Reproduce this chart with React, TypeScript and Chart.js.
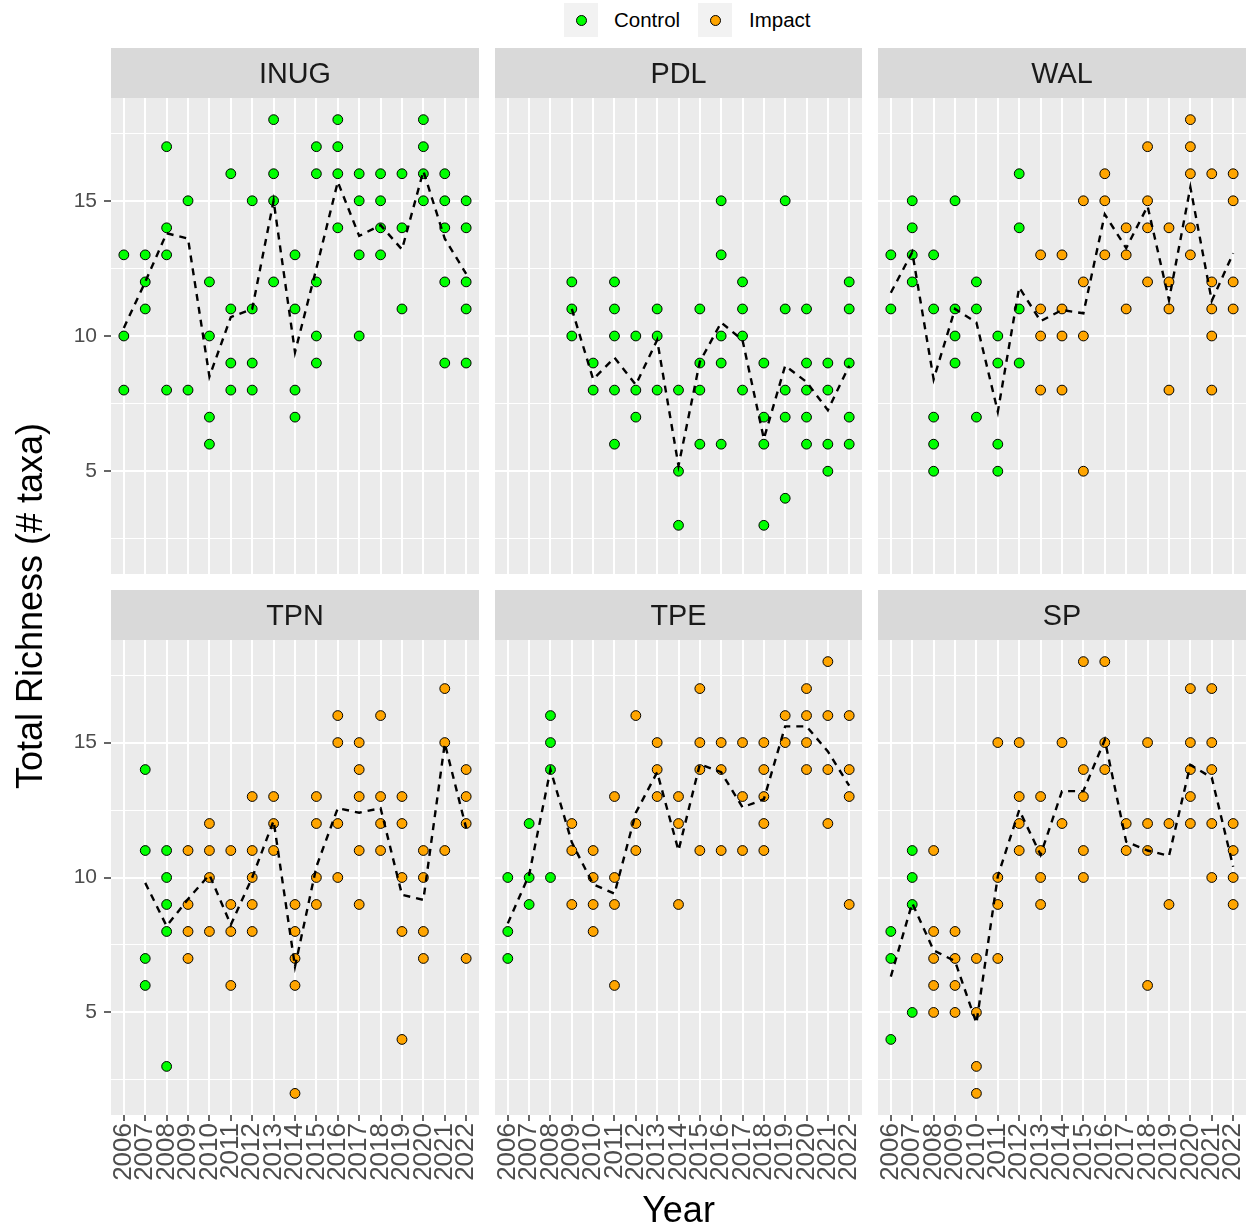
import React, { useEffect, useRef } from 'react';
import { Chart, registerables } from 'chart.js';

Chart.register(...registerables);

const FONT = '"Liberation Sans", Arial, Helvetica, sans-serif';

const YEARS = [2006, 2007, 2008, 2009, 2010, 2011, 2012, 2013, 2014, 2015, 2016, 2017, 2018, 2019, 2020, 2021, 2022];
const Y_GRID = [2.5, 5, 7.5, 10, 12.5, 15, 17.5];

// ---- INUG ----
const INUG_CONTROL: number[][] = [
  [13, 10, 8], [13, 12, 11], [17, 14, 13, 8], [15, 8], [12, 10, 7, 6], [16, 11, 9, 8], [15, 11, 9, 8],
  [18, 16, 15, 12], [13, 11, 8, 7], [17, 16, 12, 10, 9], [18, 17, 16, 14], [16, 15, 13, 10], [16, 15, 14, 13],
  [16, 14, 11], [18, 17, 16, 15], [16, 15, 14, 12, 9], [15, 14, 12, 11, 9],
];
const INUG_IMPACT: number[][] = [[], [], [], [], [], [], [], [], [], [], [], [], [], [], [], [], []];
const INUG_MEAN: (number | null)[] = [10.3, 12.0, 13.8, 13.6, 8.5, 10.7, 11.0, 15.0, 9.4, 12.5, 15.7, 13.7, 14.1, 13.2, 16.1, 13.6, 12.3];

// ---- PDL ----
const PDL_CONTROL: number[][] = [
  [], [], [], [12, 11, 10], [9, 8], [12, 11, 10, 8, 6], [10, 8, 7], [11, 10, 8], [8, 5, 3], [11, 9, 8, 6],
  [15, 13, 10, 9, 6], [12, 11, 10, 8], [9, 7, 6, 3], [15, 11, 8, 7, 4], [11, 9, 8, 7, 6], [9, 8, 6, 5], [12, 11, 9, 7, 6],
];
const PDL_IMPACT: number[][] = [[], [], [], [], [], [], [], [], [], [], [], [], [], [], [], [], []];
const PDL_MEAN: (number | null)[] = [null, null, null, 11.0, 8.4, 9.2, 8.2, 9.85, 5.2, 9.05, 10.5, 9.85, 6.2, 8.9, 8.3, 7.26, 8.9];

// ---- WAL ----
const WAL_CONTROL: number[][] = [
  [13, 11], [15, 14, 13, 12], [13, 11, 7, 6, 5], [15, 11, 10, 9], [12, 11, 7], [10, 9, 6, 5], [16, 14, 11, 9],
  [], [], [], [], [], [], [], [], [], [],
];
const WAL_IMPACT: number[][] = [
  [], [], [], [], [], [], [], [13, 11, 10, 8], [13, 11, 10, 8], [15, 12, 10, 5], [16, 15, 13], [14, 13, 11],
  [17, 15, 14, 12], [14, 12, 11, 8], [18, 17, 16, 14, 13], [16, 12, 11, 10, 8], [16, 15, 12, 11],
];
const WAL_MEAN: (number | null)[] = [11.6, 13.1, 8.4, 11.0, 10.5, 7.2, 11.8, 10.55, 10.96, 10.84, 14.5, 13.25, 14.8, 11.33, 15.5, 11.3, 13.06];

// ---- TPN ----
const TPN_CONTROL: number[][] = [
  [], [14, 11, 7, 6], [11, 10, 9, 8, 3], [], [], [], [], [], [], [], [], [], [], [], [], [], [],
];
const TPN_IMPACT: number[][] = [
  [], [], [], [11, 9, 8, 7], [12, 11, 10, 8], [11, 9, 8, 6], [13, 11, 10, 9, 8], [13, 12, 11], [9, 8, 7, 6, 2],
  [13, 12, 10, 9], [16, 15, 12, 10], [15, 14, 13, 11, 9], [16, 13, 12, 11], [13, 12, 10, 8, 4], [11, 10, 8, 7],
  [17, 15, 11], [14, 13, 12, 7],
];
const TPN_MEAN: (number | null)[] = [null, 9.8, 8.2, 9.2, 10.1, 8.25, 10.0, 12.1, 6.7, 10.4, 12.57, 12.4, 12.57, 9.36, 9.17, 14.97, 11.83];

// ---- TPE ----
const TPE_CONTROL: number[][] = [
  [10, 8, 7], [12, 10, 9], [16, 15, 14, 10], [], [], [], [], [], [], [], [], [], [], [], [], [], [],
];
const TPE_IMPACT: number[][] = [
  [], [], [], [12, 11, 9], [11, 10, 9, 8], [13, 10, 9, 6], [16, 12, 11], [15, 14, 13], [13, 12, 9],
  [17, 15, 14, 11], [15, 14, 11], [15, 13, 11], [15, 14, 13, 12, 11], [16, 15], [17, 16, 15, 14],
  [18, 16, 14, 12], [16, 14, 13, 9],
];
const TPE_MEAN: (number | null)[] = [8.3, 10.1, 14.0, 11.3, 9.75, 9.4, 12.4, 13.9, 11.0, 14.2, 13.9, 12.6, 12.9, 15.6, 15.6, 14.67, 13.4];

// ---- SP ----
const SP_CONTROL: number[][] = [
  [8, 7, 4], [11, 10, 9, 5], [], [], [], [], [], [], [], [], [], [], [], [], [], [], [],
];
const SP_IMPACT: number[][] = [
  [], [], [11, 8, 7, 6, 5], [8, 7, 6, 5], [7, 5, 3, 2], [15, 10, 9, 7], [15, 13, 12, 11], [13, 11, 10, 9],
  [15, 12], [18, 14, 13, 11, 10], [18, 15, 14], [12, 11], [15, 12, 11, 6], [12, 9], [17, 15, 14, 13, 12],
  [17, 15, 14, 12, 10], [12, 11, 10, 9],
];
const SP_MEAN: (number | null)[] = [6.33, 9.05, 7.3, 6.9, 4.6, 10.05, 12.5, 10.84, 13.2, 13.2, 15.1, 11.33, 11.0, 10.8, 14.17, 13.7, 10.4];

const PANEL_TITLES = ['INUG', 'PDL', 'WAL', 'TPN', 'TPE', 'SP'];
const PANEL_CONTROL = [INUG_CONTROL, PDL_CONTROL, WAL_CONTROL, TPN_CONTROL, TPE_CONTROL, SP_CONTROL];
const PANEL_IMPACT = [INUG_IMPACT, PDL_IMPACT, WAL_IMPACT, TPN_IMPACT, TPE_IMPACT, SP_IMPACT];
const PANEL_MEAN = [INUG_MEAN, PDL_MEAN, WAL_MEAN, TPN_MEAN, TPE_MEAN, SP_MEAN];

const CONTROL_COLOR = '#00FF00';
const IMPACT_COLOR = '#FFA500';

// layout (pixels)
const COLS: [number, number][] = [[111, 479], [495, 862], [878, 1246]];
const ROWS: [number, number][] = [[98, 574], [640, 1115]];
const STRIP = 50;
const LEFT_AXIS = 111;
const BOTTOM_AXIS = 80;

function toPoints(groups: number[][]) {
  const pts: { x: number; y: number }[] = [];
  groups.forEach((vals, i) => vals.forEach((v) => pts.push({ x: YEARS[i], y: v })));
  return pts;
}

function Panel({ idx }: { idx: number }) {
  const ref = useRef<HTMLCanvasElement>(null);
  const col = idx % 3;
  const row = Math.floor(idx / 3);
  const [x0, x1] = COLS[col];
  const [y0, y1] = ROWS[row];
  const axisW = col === 0 ? LEFT_AXIS : 0;
  const axisH = row === 1 ? BOTTOM_AXIS : 0;
  const left = x0 - axisW;
  const top = y0 - STRIP;
  const width = x1 - x0 + axisW;
  const height = y1 - y0 + STRIP + axisH;
  const title = PANEL_TITLES[idx];

  useEffect(() => {
    if (!ref.current) return;
    const facetPlugin = {
      id: 'facetBg',
      beforeDraw(chart: any) {
        const { ctx, chartArea: a } = chart;
        ctx.save();
        ctx.fillStyle = '#EBEBEB';
        ctx.fillRect(a.left, a.top, a.right - a.left, a.bottom - a.top);
        ctx.fillStyle = '#D9D9D9';
        ctx.fillRect(a.left, a.top - STRIP, a.right - a.left, STRIP);
        ctx.fillStyle = '#1A1A1A';
        ctx.font = `28.8px ${FONT}`;
        ctx.textAlign = 'center';
        ctx.textBaseline = 'middle';
        ctx.fillText(title, (a.left + a.right) / 2, a.top - STRIP / 2 + 2);
        ctx.restore();
      },
    };
    const chart = new Chart(ref.current, {
      type: 'scatter',
      data: {
        datasets: [
          {
            type: 'line',
            label: 'Mean',
            data: YEARS.map((yr, i) => ({ x: yr, y: PANEL_MEAN[idx][i] })) as any,
            borderColor: '#000000',
            borderWidth: 2.4,
            borderDash: [7, 6],
            pointRadius: 0,
            fill: false,
            tension: 0,
            spanGaps: false,
            order: 0,
          } as any,
          {
            label: 'Control',
            data: toPoints(PANEL_CONTROL[idx]),
            backgroundColor: CONTROL_COLOR,
            borderColor: '#000000',
            borderWidth: 1,
            pointRadius: 4.9,
            order: 1,
          },
          {
            label: 'Impact',
            data: toPoints(PANEL_IMPACT[idx]),
            backgroundColor: IMPACT_COLOR,
            borderColor: '#000000',
            borderWidth: 1,
            pointRadius: 4.9,
            order: 1,
          },
        ],
      },
      options: {
        responsive: false,
        maintainAspectRatio: false,
        animation: false,
        devicePixelRatio: 1,
        layout: { autoPadding: false, padding: { top: STRIP, left: 0, right: 0, bottom: 0 } },
        plugins: { legend: { display: false }, tooltip: { enabled: false } },
        events: [],
        scales: {
          x: {
            type: 'linear',
            min: 2005.4,
            max: 2022.6,
            afterBuildTicks: (s: any) => {
              s.ticks = YEARS.map((v) => ({ value: v }));
            },
            afterFit: (s: any) => {
              s.height = axisH;
              s.paddingLeft = 0;
              s.paddingRight = 0;
            },
            ticks: {
              display: row === 1,
              autoSkip: false,
              minRotation: 90,
              maxRotation: 90,
              color: '#4D4D4D',
              font: { family: FONT, size: 26 },
              padding: 2,
              callback: (v: any) => String(v),
            },
            grid: {
              color: '#FFFFFF',
              lineWidth: 2,
              drawTicks: row === 1,
              tickLength: 6,
              tickColor: '#333333',
              tickWidth: 1.5,
            },
            border: { display: false },
          },
          y: {
            type: 'linear',
            min: 1.2,
            max: 18.8,
            afterBuildTicks: (s: any) => {
              s.ticks = Y_GRID.map((v) => ({ value: v }));
            },
            afterFit: (s: any) => {
              s.width = axisW;
              s.paddingTop = 0;
              s.paddingBottom = 0;
            },
            ticks: {
              display: col === 0,
              autoSkip: false,
              color: '#4D4D4D',
              font: { family: FONT, size: 21 },
              padding: 7,
              callback: (v: any) => (Number(v) % 5 === 0 ? String(v) : ''),
            },
            grid: {
              color: '#FFFFFF',
              lineWidth: (c: any) => (c.tick && c.tick.value % 5 === 0 ? 2 : 1),
              drawTicks: col === 0,
              tickLength: 7,
              tickWidth: 1.5,
              tickColor: (c: any) => (c.tick && c.tick.value % 5 === 0 ? '#333333' : 'rgba(0,0,0,0)'),
            },
            border: { display: false },
          },
        },
      } as any,
      plugins: [facetPlugin],
    });
    return () => chart.destroy();
  }, []);

  return (
    <canvas
      ref={ref}
      width={width}
      height={height}
      style={{ position: 'absolute', left, top, width, height, display: 'block' }}
    />
  );
}

function LegendKey({ color, x }: { color: string; x: number }) {
  return (
    <div
      style={{
        position: 'absolute',
        left: x - 17,
        top: 3,
        width: 34,
        height: 34,
        background: '#F2F2F2',
      }}
    >
      <div
        style={{
          position: 'absolute',
          left: 12,
          top: 12,
          width: 9,
          height: 9,
          borderRadius: '50%',
          background: color,
          border: '1px solid #000',
        }}
      />
    </div>
  );
}

export default function App() {
  return (
    <div
      style={{
        position: 'absolute',
        left: 0,
        top: 0,
        width: 1251,
        height: 1228,
        background: '#FFFFFF',
        fontFamily: FONT,
        overflow: 'hidden',
      }}
    >
      {[0, 1, 2, 3, 4, 5].map((i) => (
        <Panel key={i} idx={i} />
      ))}
      <LegendKey color={CONTROL_COLOR} x={581} />
      <div style={{ position: 'absolute', left: 614, top: 8, fontSize: 20.5, lineHeight: '24px', color: '#000' }}>Control</div>
      <LegendKey color={IMPACT_COLOR} x={715} />
      <div style={{ position: 'absolute', left: 749, top: 8, fontSize: 20.5, lineHeight: '24px', color: '#000' }}>Impact</div>
      <div
        style={{
          position: 'absolute',
          left: 578.5,
          width: 200,
          top: 1189,
          textAlign: 'center',
          fontSize: 36,
          lineHeight: '42px',
          color: '#000',
        }}
      >
        Year
      </div>
      <div
        style={{
          position: 'absolute',
          left: 30 - 250,
          top: 606 - 21,
          width: 500,
          height: 42,
          textAlign: 'center',
          fontSize: 36,
          lineHeight: '42px',
          color: '#000',
          transform: 'rotate(-90deg)',
          transformOrigin: '50% 50%',
          whiteSpace: 'nowrap',
        }}
      >
        Total Richness (# taxa)
      </div>
    </div>
  );
}
